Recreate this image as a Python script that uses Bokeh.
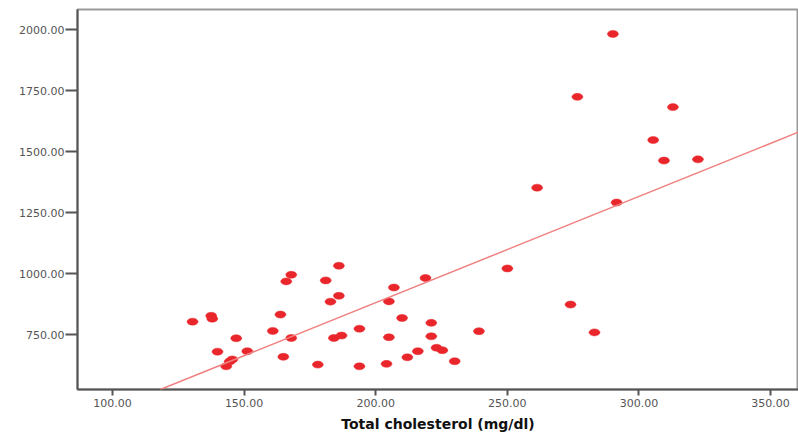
from bokeh.plotting import figure
from bokeh.models import Range1d, FixedTicker, PrintfTickFormatter, Slope, ColumnDataSource
from bokeh.embed import file_html
from bokeh.resources import INLINE

# Total cholesterol (mg/dl)
cholesterol = [130.4, 137.5, 137.9, 139.9, 143.2, 144.5, 145.5, 147.0, 151.2, 160.9,
               163.8, 164.9, 166.0, 167.9, 167.9, 178.0, 181.0, 182.8, 184.1, 186.0,
               186.0, 187.0, 193.8, 193.8, 204.1, 205.0, 205.0, 206.9, 210.0, 212.0,
               216.0, 218.9, 221.1, 221.1, 223.1, 225.3, 230.0, 239.2, 250.0, 261.3,
               274.0, 276.6, 283.1, 290.1, 291.5, 305.4, 309.5, 312.9, 322.4]
# outcome values
outcome = [803, 827, 815, 680, 620, 640, 648, 735, 682, 765,
           832, 659, 968, 995, 736, 627, 972, 885, 736, 1032,
           909, 746, 774, 620, 630, 886, 739, 943, 818, 657,
           682, 982, 798, 743, 696, 686, 641, 764, 1021, 1352,
           873, 1724, 759, 1982, 1291, 1547, 1463, 1682, 1468]

# linear fit
fit_intercept = 11.0
fit_slope = 4.35

x_ticks = [100, 150, 200, 250, 300, 350]
y_ticks = [750, 1000, 1250, 1500, 1750, 2000]

p = figure(width=798, height=434, output_backend="svg", toolbar_location=None,
           x_range=Range1d(86.7, 360.6), y_range=Range1d(525, 2082),
           min_border_left=77, min_border_right=0, min_border_top=9, min_border_bottom=42)

p.xgrid.visible = False
p.ygrid.visible = False
p.outline_line_color = "#9a9a9a"
p.outline_line_width = 2

for ax in (p.xaxis[0], p.yaxis[0]):
    ax.axis_line_color = "#555555"
    ax.axis_line_width = 2
    ax.major_tick_line_color = "#555555"
    ax.major_tick_line_width = 2
    ax.minor_tick_line_color = None
    ax.major_tick_in = 0
    ax.major_label_text_font = "DejaVu Sans"
    ax.major_label_text_font_size = "11px"
    ax.major_label_text_color = "#555555"
    ax.formatter = PrintfTickFormatter(format="%.2f")

p.xaxis.ticker = FixedTicker(ticks=x_ticks)
p.yaxis.ticker = FixedTicker(ticks=y_ticks)
p.xaxis.major_tick_out = 6
p.xaxis.major_label_standoff = 3
p.yaxis.major_tick_out = 12
p.yaxis.major_label_standoff = 1

p.xaxis.axis_label = "Total cholesterol (mg/dl)"
p.xaxis.axis_label_text_font = "DejaVu Sans"
p.xaxis.axis_label_text_font_style = "bold"
p.xaxis.axis_label_text_font_size = "14px"
p.xaxis.axis_label_text_color = "#111111"
p.xaxis.axis_label_standoff = 6

p.add_layout(Slope(gradient=fit_slope, y_intercept=fit_intercept,
                   line_color="#f08080", line_width=1.5))

src = ColumnDataSource(dict(x=cholesterol, y=outcome))
p.ellipse(x="x", y="y", width=11, height=7, width_units="screen", height_units="screen",
          source=src, fill_color="#e8262b", line_color="#e8262b", line_width=0.5)

open("out.html", "w").write(file_html(p, INLINE))
